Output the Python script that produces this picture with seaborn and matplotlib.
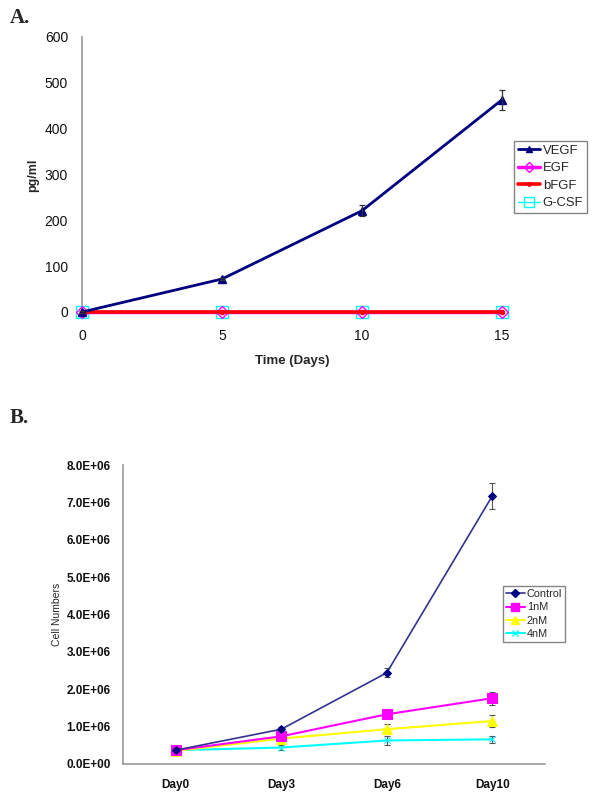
import numpy as np
import pandas as pd
import seaborn as sns
import matplotlib
matplotlib.use("Agg")
import matplotlib.pyplot as plt
from matplotlib.ticker import FuncFormatter, FixedLocator
from matplotlib.lines import Line2D

# ---------------- data ----------------
days_a = [0, 5, 10, 15]
vegf = [0, 72, 221, 463]
vegf_err = [2, 3, 12, 22]
egf = [0, 0, 0, 0]
bfgf = [0, 0, 0, 0]
gcsf = [0, 0, 0, 0]

days_b = ["Day0", "Day3", "Day6", "Day10"]
control = [0.37e6, 0.93e6, 2.44e6, 7.17e6]
control_err = [0.03e6, 0.05e6, 0.12e6, 0.36e6]
nm1 = [0.37e6, 0.74e6, 1.33e6, 1.76e6]
nm1_err = [0.03e6, 0.06e6, 0.10e6, 0.17e6]
nm2 = [0.35e6, 0.68e6, 0.93e6, 1.15e6]
nm2_err = [0.03e6, 0.06e6, 0.13e6, 0.17e6]
nm4 = [0.37e6, 0.44e6, 0.63e6, 0.66e6]
nm4_err = [0.03e6, 0.06e6, 0.12e6, 0.10e6]

sns.set_style("white")
plt.rcParams['font.family'] = ['Liberation Sans', 'DejaVu Sans']

fig = plt.figure(figsize=(6, 7.99), dpi=100)
W, H = 600, 799

def fx(px):
    return px / W

def fy(py):
    return 1 - py / H

grey = "#9a9a9a"

# ---------------- Panel A ----------------
axA = fig.add_axes([fx(82), fy(312), fx(502) - fx(82), fy(37) - fy(312)])
dfA = pd.DataFrame({"day": days_a * 4,
                    "val": vegf + egf + bfgf + gcsf,
                    "series": ["VEGF"] * 4 + ["EGF"] * 4 + ["bFGF"] * 4 + ["G-CSF"] * 4})
styleA = {
    "G-CSF": dict(color="#00ffff", marker="s", ms=9, mfc="none", mec="#00ffff", mew=1.0, lw=1.0, z=3),
    "EGF": dict(color="#ff00ff", marker="D", ms=6, mfc="none", mec="#ff00ff", mew=1.0, lw=2.5, z=4),
    "bFGF": dict(color="#ff0000", marker="o", ms=3, mfc="#ff0000", mec="#ff0000", mew=1.0, lw=2.6, z=5),
    "VEGF": dict(color="#000080", marker="^", ms=6, mfc="#000080", mec="#000080", mew=1.0, lw=2.0, z=6),
}
for name in ["G-CSF", "EGF", "bFGF", "VEGF"]:
    s = styleA[name]
    sub = dfA[dfA.series == name]
    sns.lineplot(data=sub, x="day", y="val", ax=axA, color=s["color"], lw=s["lw"],
                 marker=s["marker"], markersize=s["ms"], markerfacecolor=s["mfc"],
                 markeredgecolor=s["mec"], markeredgewidth=s["mew"], zorder=s["z"],
                 clip_on=False, label=name, legend=False)
axA.errorbar(days_a, vegf, yerr=vegf_err, fmt="none", ecolor="#333333", elinewidth=0.9,
             capsize=2.5, capthick=0.9, zorder=7, clip_on=False)
axA.set_xlim(0, 15)
axA.set_ylim(0, 600)
axA.set_xticks([0, 5, 10, 15])
axA.set_yticks(range(0, 601, 100))
for sp in ["top", "right"]:
    axA.spines[sp].set_visible(False)
for sp in ["left", "bottom"]:
    axA.spines[sp].set_color(grey)
    axA.spines[sp].set_linewidth(1.2)
axA.tick_params(axis="y", direction="out", length=4, color=grey, width=1, labelsize=10,
                labelcolor="#111111", pad=6)
axA.tick_params(axis="x", length=0, labelsize=10, labelcolor="#111111", pad=12)
axA.set_xlabel("Time (Days)", fontsize=9.5, fontweight="bold", labelpad=9)
axA.set_ylabel("")
axA.text(fx(33), fy(175), "pg/ml", transform=fig.transFigure, rotation=90,
         ha="center", va="center", fontsize=9, fontweight="bold")

handlesA = []
for name in ["VEGF", "EGF", "bFGF", "G-CSF"]:
    s = styleA[name]
    handlesA.append(Line2D([], [], color=s["color"], lw=s["lw"], marker=s["marker"],
                           markersize=s["ms"] * 0.8, markerfacecolor=s["mfc"],
                           markeredgecolor=s["mec"], label=name))
legA = fig.legend(handles=handlesA, loc="upper left", bbox_to_anchor=(fx(514), fy(141)),
                  bbox_transform=fig.transFigure, fontsize=9.4, frameon=True, fancybox=False,
                  edgecolor="#666666", handlelength=1.7, handletextpad=0.2,
                  borderpad=0.3, labelspacing=0.4, borderaxespad=0)
legA.get_frame().set_linewidth(1.0)

fig.text(fx(10), fy(18), "A.", fontsize=15, fontweight="bold", family="Liberation Serif",
         ha="left", va="center")

# ---------------- Panel B ----------------
axB = fig.add_axes([fx(123), fy(764), fx(545) - fx(123), fy(465) - fy(764)])
seriesB = {"Control": (control, control_err), "1nM": (nm1, nm1_err),
           "2nM": (nm2, nm2_err), "4nM": (nm4, nm4_err)}
styleB = {
    "Control": dict(color="#33338f", marker="D", ms=4.5, lw=1.2, mfc="#000080"),
    "1nM": dict(color="#ff00ff", marker="s", ms=7, lw=1.5, mfc="#ff00ff"),
    "2nM": dict(color="#ffff00", marker="^", ms=7, lw=1.5, mfc="#ffff00"),
    "4nM": dict(color="#00ffff", marker="x", ms=5, lw=1.5, mfc="#00ffff"),
}
order = ["4nM", "2nM", "1nM", "Control"]
for i, name in enumerate(order):
    vals, errs = seriesB[name]
    s = styleB[name]
    dfB = pd.DataFrame({"day": days_b, "val": vals})
    sns.lineplot(data=dfB, x="day", y="val", ax=axB, sort=False, color=s["color"], lw=s["lw"],
                 marker=s["marker"], markersize=s["ms"], markerfacecolor=s["mfc"],
                 markeredgecolor=s["mfc"], zorder=3 + i, legend=False)
    axB.errorbar(range(len(days_b)), vals, yerr=errs, fmt="none", ecolor="#555555",
                 elinewidth=0.8, capsize=2, capthick=0.8, zorder=2)
axB.set_xlim(-0.5, 3.5)
axB.set_ylim(0, 8e6)
axB.set_yticks(np.arange(0, 8.01e6, 1e6))
axB.yaxis.set_major_formatter(FuncFormatter(lambda v, p: "{:.1E}".format(v)))
axB.set_xticks(range(4))
axB.set_xticklabels(days_b)
axB.xaxis.set_minor_locator(FixedLocator([-0.5, 0.5, 1.5, 2.5, 3.5]))
for sp in ["top", "right"]:
    axB.spines[sp].set_visible(False)
for sp in ["left", "bottom"]:
    axB.spines[sp].set_color(grey)
    axB.spines[sp].set_linewidth(1.2)
axB.tick_params(axis="y", direction="out", length=4, color=grey, width=1, labelsize=8.5,
                labelcolor="#111111", pad=5)
for t in axB.get_yticklabels():
    t.set_fontweight("bold")
axB.tick_params(axis="x", which="major", length=0, labelsize=8.5, labelcolor="#111111", pad=11)
axB.tick_params(axis="x", which="minor", direction="out", length=4, color=grey, width=1)
for t in axB.get_xticklabels():
    t.set_fontweight("bold")
axB.set_xlabel("")
axB.set_ylabel("")
axB.text(fx(57), fy(614), "Cell Numbers", transform=fig.transFigure, rotation=90,
         ha="center", va="center", fontsize=7.5)

handlesB = []
for name in ["Control", "1nM", "2nM", "4nM"]:
    s = styleB[name]
    handlesB.append(Line2D([], [], color=s["color"], lw=s["lw"], marker=s["marker"],
                           markersize=s["ms"] * 0.85, markerfacecolor=s["mfc"],
                           markeredgecolor=s["mfc"], label=name))
legB = fig.legend(handles=handlesB, loc="upper left", bbox_to_anchor=(fx(503), fy(586)),
                  bbox_transform=fig.transFigure, fontsize=7.8, frameon=True, fancybox=False,
                  edgecolor="#666666", handlelength=1.7, handletextpad=0.2,
                  borderpad=0.3, labelspacing=0.3, borderaxespad=0)
legB.get_frame().set_linewidth(1.0)

fig.text(fx(10), fy(418), "B.", fontsize=15, fontweight="bold", family="Liberation Serif",
         ha="left", va="center")

fig.savefig("out.png", dpi=100)
